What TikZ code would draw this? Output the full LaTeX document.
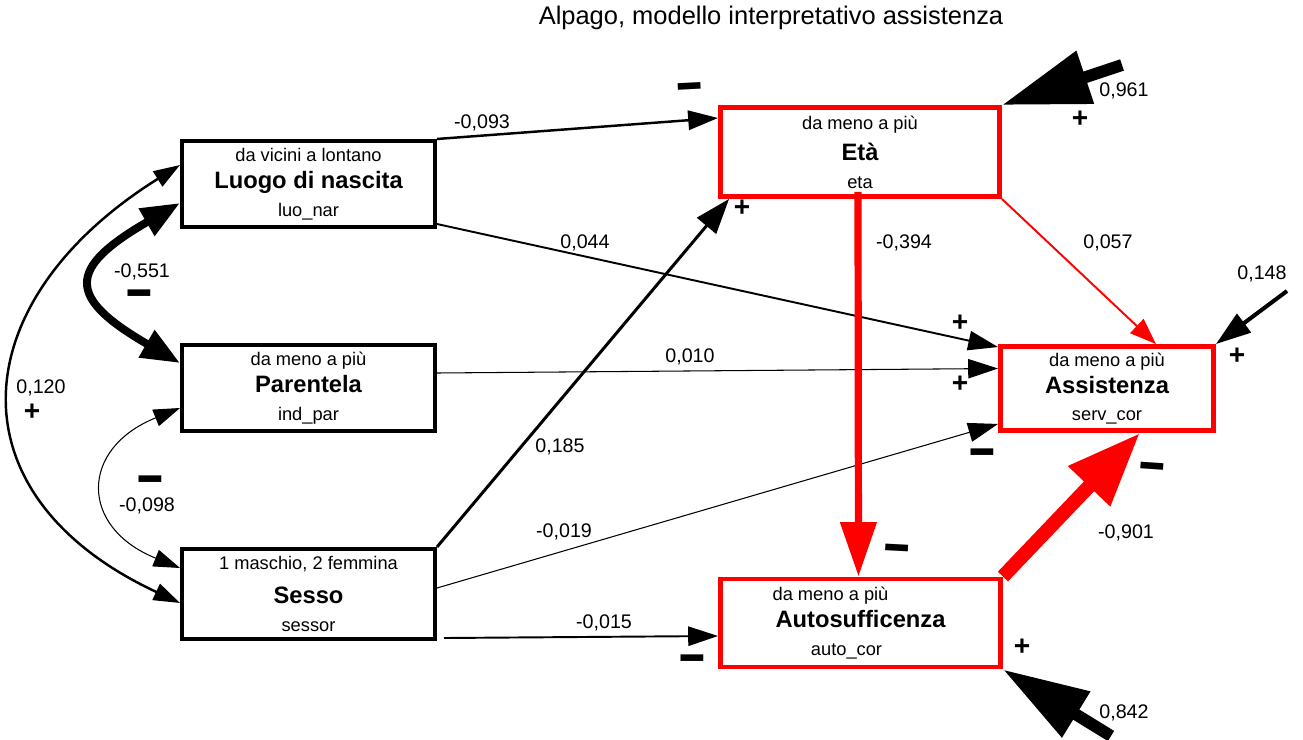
\documentclass[tikz,border=0pt]{standalone}
\usepackage{fontspec}
\setmainfont{Liberation Sans}
\usepackage{tikz}
\usetikzlibrary{
  arrows.meta,
  positioning,
  calc
}
\definecolor{semRed}{HTML}{FF0000}
\definecolor{semInk}{HTML}{000000}
\newcommand{\varname}[1]{{\fontsize{13.5}{15.5}\selectfont\bfseries #1}}
\newcommand{\mbar}{\raisebox{-6pt}[4pt][0pt]{\scalebox{3.4}[2.1]{-}}}
\tikzset{
  varbox/.style={
    draw=semInk, line width=2.3pt, inner sep=0pt, align=center,
    minimum width=5.06cm, minimum height=1.72cm, font=\fontsize{10.4}{15.5}\selectfont
  },
  endobox/.style={varbox, draw=semRed, line width=2.8pt},
  effect/.style={-{Triangle[length=17pt,width=11pt]}, semInk},
  reffect/.style={effect, semRed},
  cov/.style={{Triangle[length=15pt,width=10pt]}-{Triangle[length=15pt,width=10pt]}, semInk},
  coef/.style={font=\fontsize{11.2}{13}\selectfont, inner sep=0pt},
  heading/.style={font=\fontsize{14.5}{17}\selectfont, inner sep=0pt},
  plussign/.style={font=\fontsize{16}{16}\selectfont\bfseries, inner sep=0pt},
  minussign/.style={font=\fontsize{15}{15}\selectfont\bfseries, inner sep=0pt}
}

\begin{document}
\begin{tikzpicture}[x=0.02cm, y=-0.02cm]
  \useasboundingbox (0,0) rectangle (1303,740);
  \node[heading] (ttl) at (771,18) {Alpago, modello interpretativo assistenza};

  % variabili esogene
  \node[varbox] (luo) at (308.5,184) {da vicini a lontano\\\varname{Luogo di nascita}\\luo\_nar};
  \node[varbox] (par) at (308.5,388) {da meno a più\\\varname{Parentela}\\ind\_par};
  \node[varbox, minimum height=1.8cm] (ses) at (308.5,594) {1 maschio, 2 femmina\\[3.8pt]\varname{Sesso}\\sessor};

  % variabili endogene
  \node[endobox, minimum width=5.58cm, minimum height=1.78cm] (eta) at (860,152) {da meno a più\\[2.5pt]\varname{Età}\\eta};
  \node[endobox, minimum width=4.26cm, minimum height=1.68cm] (ass) at (1107,388.5) {da meno a più\\\varname{Assistenza}\\serv\_cor};
  \node[endobox, minimum width=5.6cm, minimum height=1.76cm] (aut) at (860.5,623) {da meno a più\hspace*{1.2cm}\\\varname{Autosufficenza}\\auto\_cor\hspace*{0.56cm}};

  % effetti diretti
  \draw[effect, line width=1.4pt] (luo.north east) -- ([yshift=0.68cm]eta.west);
  \draw[effect, line width=1.1pt] ([yshift=0.1cm]luo.south east) -- ([yshift=-0.06cm]ass.north west);
  \draw[effect, line width=0.6pt] ([yshift=0.3cm]par.east) -- ([yshift=0.4cm]ass.west);
  \draw[effect, line width=1.7pt, -{Triangle[length=20pt,width=14pt]}] (ses.north east) -- ([xshift=0.22cm]eta.south west);
  \draw[effect, line width=0.6pt] ([yshift=0.12cm]ses.east) -- ([yshift=0.18cm]ass.south west);
  \draw[effect, line width=1.1pt] ([xshift=0.14cm,yshift=0.06cm]ses.south east) -- ([yshift=-0.26cm]aut.west);
  \draw[reffect, line width=4.1pt, -{Triangle[length=31pt,width=20pt]}] ([xshift=-0.04cm,yshift=0.14cm]eta.south) -- ([xshift=-0.04cm]aut.north);
  \draw[reffect, line width=1.1pt, -{Triangle[length=15pt,width=11pt]}] (eta.south east) -- ([xshift=0.98cm]ass.north);
  \draw[reffect, line width=8pt, -{Triangle[length=42pt,width=31pt]}] (aut.north east) -- ([xshift=0.66cm]ass.south);

  % residui
  \coordinate (e1) at (1122,65);
  \coordinate (e2) at (1287,291);
  \coordinate (e3) at (1111,736);
  \draw[effect, line width=6.8pt, -{Triangle[length=50pt,width=30pt]}] (e1) -- (eta.north east);
  \draw[effect, line width=2.3pt, -{Triangle[length=20pt,width=13pt]}] (e2) -- (ass.north east);
  \draw[effect, line width=6.8pt, -{Triangle[length=49pt,width=29pt]}] (e3) -- (aut.south east);

  % covarianze
  \draw[cov, line width=4.5pt, {Triangle[length=22pt,width=17pt]}-{Triangle[length=22pt,width=17pt]}]
    ([yshift=-0.38cm]luo.west) to[out=210, in=150, looseness=2.1] ([yshift=0.5cm]par.west);
  \draw[cov, line width=1.4pt] ([yshift=0.38cm]luo.west) to[out=212, in=155, looseness=1.5] ([yshift=-0.18cm]ses.west);
  \draw[cov, line width=0.6pt] ([yshift=-0.4cm]par.west) to[out=202, in=158, looseness=1.74] ([yshift=0.52cm]ses.west);

  % coefficienti
  \foreach \lx/\ly/\val [count=\i] in {482/123/{-0,093}, 585/243/{0,044}, 690/357/{0,010},
      560/447/{0,185}, 564/532/{-0,019}, 604/623/{-0,015}, 904/243/{-0,394}, 1108/243/{0,057},
      1126/533/{-0,901}, 1124/91/{0,961}, 1262/274/{0,148}, 1124/713/{0,842},
      142/272/{-0,551}, 41/388/{0,120}, 147/506/{-0,098}}
    \node[coef] (c\i) at (\lx,\ly) {\val};

  % segni
  \foreach \sx/\sy [count=\i] in {32/412, 742/208, 1080/119, 960/323, 960/384, 1237/356, 1022/647}
    \node[plussign] (p\i) at (\sx,\sy) {+};
  \foreach \sx/\sy/\rot [count=\i] in {690/87/3, 139/293/0, 150/479/0, 982/452/0, 692/658/0, 897/548/-3, 1152/467/-4}
    \node[minussign, rotate=\rot] (m\i) at (\sx,\sy) {\mbar};
\end{tikzpicture}
\end{document}
